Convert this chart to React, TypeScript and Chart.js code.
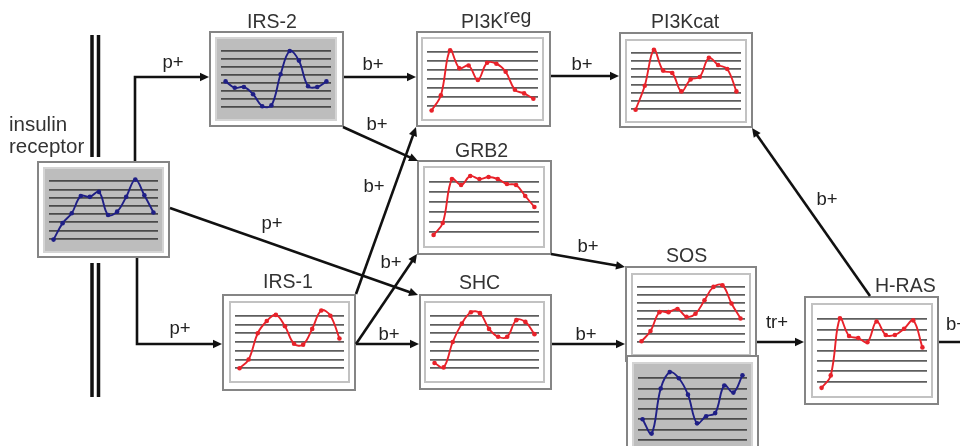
import React, { useEffect, useRef } from "react";
import { Chart, registerables } from "chart.js";
Chart.register(...registerables);

// ---- data (values in grid-line units) ----
const timePoints = ["1", "2", "3", "4", "5", "6", "7", "8", "9", "10", "11", "12"];
const insulinReceptor = [0.9, 2.9, 4.1, 6.2, 6.1, 6.7, 3.9, 4.3, 6.1, 8.2, 6.3, 4.2];
const irs2 = [4.2, 3.4, 3.5, 2.6, 1.1, 1.2, 5.1, 8.0, 6.8, 3.6, 3.5, 4.2];
const pi3kReg = [0.5, 2.2, 7.2, 5.2, 5.5, 3.9, 5.8, 5.7, 4.8, 2.8, 2.4, 1.8];
const pi3kCat = [0.9, 3.9, 8.4, 5.8, 5.5, 3.2, 4.7, 5.0, 7.4, 6.5, 6.0, 3.2];
const grb2 = [0.7, 1.9, 6.3, 5.7, 6.6, 6.3, 6.5, 6.3, 5.8, 5.7, 4.6, 3.5];
const irs1 = [1.0, 2.0, 5.0, 6.4, 7.1, 5.8, 3.8, 3.7, 5.5, 7.6, 7.0, 4.4];
const shc = [1.6, 1.1, 4.0, 6.1, 7.4, 7.3, 5.5, 4.6, 4.6, 6.5, 6.3, 4.9];
const sosProtein = [1.1, 2.4, 4.8, 4.8, 5.2, 4.2, 4.6, 6.3, 8.0, 8.2, 5.9, 4.0];
const sosMrna = [3.0, 1.6, 6.0, 7.6, 7.0, 5.4, 2.6, 3.3, 3.6, 6.3, 5.6, 7.3];
const hras = [0.4, 1.6, 7.1, 5.4, 5.2, 4.8, 6.8, 5.5, 5.5, 6.1, 6.9, 4.3];

// ---- layout / style ----
const RED = "#e8222a";
const BLUE = "#1f1f86";

type Panel = {
  key: string;
  values: number[];
  grid: number;
  blue: boolean;
  box: [number, number, number, number];
  plot: [number, number, number, number];
};

const panels: Panel[] = [
  { key: "ins", values: insulinReceptor, grid: 9, blue: true, box: [37, 161, 133, 97], plot: [43, 167, 121, 86] },
  { key: "irs2", values: irs2, grid: 9, blue: true, box: [209, 31, 135, 96], plot: [215, 37, 122, 84] },
  { key: "reg", values: pi3kReg, grid: 8, blue: false, box: [416, 31, 135, 96], plot: [421, 37, 123, 84] },
  { key: "cat", values: pi3kCat, grid: 9, blue: false, box: [619, 32, 134, 96], plot: [625, 39, 122, 84] },
  { key: "grb2", values: grb2, grid: 7, blue: false, box: [417, 160, 135, 95], plot: [423, 166, 122, 82] },
  { key: "irs1", values: irs1, grid: 8, blue: false, box: [222, 294, 134, 97], plot: [229, 301, 121, 82] },
  { key: "shc", values: shc, grid: 8, blue: false, box: [419, 294, 133, 96], plot: [424, 301, 121, 82] },
  { key: "sos", values: sosProtein, grid: 9, blue: false, box: [625, 266, 132, 96], plot: [631, 273, 120, 83] },
  { key: "sos2", values: sosMrna, grid: 8, blue: true, box: [626, 355, 133, 104], plot: [632, 362, 121, 94] },
  { key: "hras", values: hras, grid: 8, blue: false, box: [804, 296, 135, 109], plot: [811, 303, 122, 95] },
];

function MiniChart({ p }: { p: Panel }) {
  const ref = useRef<HTMLCanvasElement>(null);
  const bw = 2;
  const cw = p.plot[2] - bw * 2;
  const ch = p.plot[3] - bw * 2;
  useEffect(() => {
    const color = p.blue ? BLUE : RED;
    const gridColor = p.blue ? "#4a4a4a" : "#5e5e5e";
    const chart = new Chart(ref.current as HTMLCanvasElement, {
      type: "line",
      data: {
        labels: timePoints,
        datasets: [
          {
            data: p.values,
            borderColor: color,
            backgroundColor: color,
            pointBackgroundColor: color,
            pointBorderColor: color,
            pointRadius: 2.3,
            pointBorderWidth: 0,
            borderWidth: 1.9,
            tension: 0.38,
            fill: false,
            clip: 4,
          } as any,
        ],
      },
      options: {
        animation: false,
        responsive: false,
        devicePixelRatio: 1,
        events: [],
        layout: { padding: 0 },
        plugins: { legend: { display: false }, tooltip: { enabled: false } },
        scales: {
          x: { display: false, offset: true },
          y: {
            min: 0,
            max: p.grid,
            display: true,
            ticks: { display: false, stepSize: 1 },
            border: { display: false },
            grid: {
              drawTicks: false,
              lineWidth: 1.8,
              color: (c: any) =>
                c.tick && (c.tick.value <= 0 || c.tick.value >= p.grid) ? "rgba(0,0,0,0)" : gridColor,
            },
          },
        },
      },
    });
    return () => chart.destroy();
  }, []);
  return (
    <>
      <div
        style={{
          position: "absolute",
          left: p.box[0],
          top: p.box[1],
          width: p.box[2],
          height: p.box[3],
          boxSizing: "border-box",
          border: "2px solid #858585",
          background: "#fff",
        }}
      />
      <div
        style={{
          position: "absolute",
          left: p.plot[0],
          top: p.plot[1],
          width: p.plot[2],
          height: p.plot[3],
          boxSizing: "border-box",
          border: `${bw}px solid ${p.blue ? "#d4d4d4" : "#c2c2c2"}`,
          background: p.blue ? "#bdbdbd" : "#fff",
        }}
      >
        <canvas ref={ref} width={cw} height={ch} style={{ display: "block", width: cw, height: ch }} />
      </div>
    </>
  );
}

type Pt = [number, number];
const arrows: { pts: Pt[]; head: boolean }[] = [
  { pts: [[135, 161], [135, 77], [209, 77]], head: true },
  { pts: [[137, 258], [137, 344], [222, 344]], head: true },
  { pts: [[170, 208], [418, 295]], head: true },
  { pts: [[344, 77], [416, 77]], head: true },
  { pts: [[343, 127], [418, 161]], head: true },
  { pts: [[356, 294], [416, 127]], head: true },
  { pts: [[356, 344], [417, 254]], head: true },
  { pts: [[356, 344], [419, 344]], head: true },
  { pts: [[551, 76], [619, 76]], head: true },
  { pts: [[551, 254], [625, 267]], head: true },
  { pts: [[552, 344], [625, 344]], head: true },
  { pts: [[757, 342], [804, 342]], head: true },
  { pts: [[870, 296], [752, 128]], head: true },
  { pts: [[939, 342], [975, 342]], head: false },
];

const edgeLabels: { t: string; x: number; y: number; a?: string }[] = [
  { t: "p+", x: 173, y: 68 },
  { t: "b+", x: 373, y: 70 },
  { t: "b+", x: 377, y: 130 },
  { t: "b+", x: 374, y: 192 },
  { t: "b+", x: 391, y: 268 },
  { t: "b+", x: 389, y: 340 },
  { t: "p+", x: 272, y: 229 },
  { t: "p+", x: 180, y: 334 },
  { t: "b+", x: 582, y: 70 },
  { t: "b+", x: 588, y: 252 },
  { t: "b+", x: 586, y: 340 },
  { t: "tr+", x: 777, y: 328 },
  { t: "b+", x: 827, y: 205 },
  { t: "b+", x: 946, y: 330, a: "start" },
];

const titles: { t: string; x: number; y: number; sup?: string; size?: number }[] = [
  { t: "IRS-2", x: 247, y: 28 },
  { t: "PI3K", x: 461, y: 28, sup: "reg" },
  { t: "PI3Kcat", x: 651, y: 28 },
  { t: "GRB2", x: 455, y: 157 },
  { t: "IRS-1", x: 263, y: 288 },
  { t: "SHC", x: 459, y: 289 },
  { t: "SOS", x: 666, y: 262 },
  { t: "H-RAS", x: 875, y: 292 },
  { t: "insulin", x: 9, y: 131, size: 20.5 },
  { t: "receptor", x: 9, y: 153, size: 20.5 },
];

function Arrow({ pts, head }: { pts: Pt[]; head: boolean }) {
  const n = pts.length;
  const [x1, y1] = pts[n - 2];
  const [x2, y2] = pts[n - 1];
  const len = Math.hypot(x2 - x1, y2 - y1);
  const ux = (x2 - x1) / len;
  const uy = (y2 - y1) / len;
  const L = 9;
  const W = 4.2;
  const line = pts.map((q) => [q[0], q[1]] as Pt);
  if (head) line[n - 1] = [x2 - ux * (L - 2), y2 - uy * (L - 2)];
  const bx = x2 - ux * L;
  const by = y2 - uy * L;
  const poly = `${x2},${y2} ${bx - uy * W},${by + ux * W} ${bx + uy * W},${by - ux * W}`;
  return (
    <g>
      <polyline points={line.map((q) => q.join(",")).join(" ")} fill="none" stroke="#111" strokeWidth={2.6} strokeLinejoin="miter" />
      {head && <polygon points={poly} fill="#111" />}
    </g>
  );
}

export default function App() {
  const font = "'Liberation Sans', Arial, sans-serif";
  return (
    <div
      style={{
        position: "fixed",
        left: 0,
        top: 0,
        width: 960,
        height: 446,
        overflow: "hidden",
        background: "#fff",
      }}
    >
      {panels.map((p) => (
        <MiniChart key={p.key} p={p} />
      ))}
      <svg
        width={960}
        height={446}
        style={{ position: "absolute", left: 0, top: 0, pointerEvents: "none" }}
      >
        <line x1={92} y1={35} x2={92} y2={157} stroke="#111" strokeWidth={3.5} />
        <line x1={98.5} y1={35} x2={98.5} y2={157} stroke="#111" strokeWidth={3.5} />
        <line x1={92} y1={263} x2={92} y2={397} stroke="#111" strokeWidth={3.5} />
        <line x1={98.5} y1={263} x2={98.5} y2={397} stroke="#111" strokeWidth={3.5} />
        {arrows.map((a, i) => (
          <Arrow key={i} pts={a.pts} head={a.head} />
        ))}
        {edgeLabels.map((l, i) => (
          <text key={i} x={l.x} y={l.y} textAnchor={(l.a as any) || "middle"} fontFamily={font} fontSize={18.5} fill="#222">
            {l.t}
          </text>
        ))}
        {titles.map((t, i) => (
          <text key={i} x={t.x} y={t.y} fontFamily={font} fontSize={t.size || 19.5} fill="#333">
            {t.t}
            {t.sup && <tspan dy={-5}>{t.sup}</tspan>}
          </text>
        ))}
      </svg>
    </div>
  );
}
